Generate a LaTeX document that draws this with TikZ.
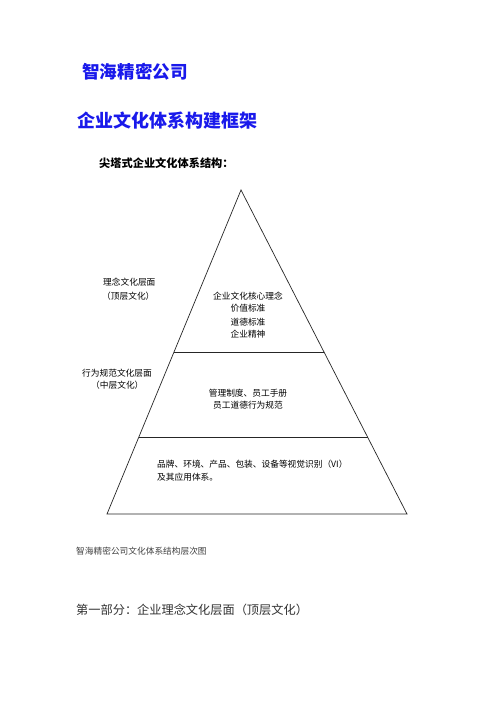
\documentclass[tikz,border=0pt]{standalone}
\usepackage{fontspec}
\setmainfont{Noto Sans CJK SC}
\definecolor{titleblue}{RGB}{25,25,235}
\begin{document}
\begin{tikzpicture}[x=1pt,y=-1pt,
  txt/.style={inner sep=0pt, font=\fontsize{8.7}{10}\selectfont},
  ttl/.style={inner sep=0pt, anchor=west, text=titleblue, font=\fontsize{#1}{#1}\selectfont\bfseries},
  edge/.style={draw=black!85, line width=0.7pt}]
\useasboundingbox[fill=white] (0,0) rectangle (496,702);
% titles
\node[ttl=17.6] (t1) at (82,72) {智海精密公司};
\node[ttl=18] (t2) at (77,121) {企业文化体系构建框架};
\node[inner sep=0pt, anchor=west, font=\fontsize{11.2}{12}\selectfont\bfseries] (t3) at (99,163) {尖塔式企业文化体系结构：};
% pyramid
\coordinate (apex) at (241,190);
\coordinate (bl) at (107,514);
\coordinate (br) at (407,514);
\coordinate (l1a) at (174,352);
\coordinate (l1b) at (324,352);
\coordinate (l2a) at (139,437);
\coordinate (l2b) at (368,437);
\draw[edge] (apex) -- (bl) -- (br) -- cycle;
\draw[edge] (l1a) -- (l1b);
\draw[edge] (l2a) -- (l2b);
% left labels
\node[txt, anchor=west] (a1) at (103,282) {理念文化层面};
\node[txt, anchor=west] (a2) at (102,296) {（顶层文化）};
\node[txt, anchor=west] (b1) at (82,373) {行为规范文化层面};
\node[txt, anchor=west] (b2) at (91,385) {（中层文化）};
% inner texts
\node[txt] (c1) at (248,296) {企业文化核心理念};
\node[txt] (c2) at (248,308) {价值标准};
\node[txt] (c3) at (248,322) {道德标准};
\node[txt] (c4) at (248,334) {企业精神};
\node[txt] (d1) at (248,393) {管理制度、员工手册};
\node[txt] (d2) at (248,405) {员工道德行为规范};
\node[txt, anchor=west] (e1) at (157,464) {品牌、环境、产品、包装、设备等视觉识别（VI）};
\node[txt, anchor=west] (e2) at (157,477) {及其应用体系。};
% caption
\node[inner sep=0pt, anchor=west, text=black!75, font=\fontsize{8.7}{10}\selectfont] (cap) at (76,551) {智海精密公司文化体系结构层次图};
\node[inner sep=0pt, anchor=west, text=black!80, font=\fontsize{12.2}{14}\selectfont] (sec) at (76,610) {第一部分：企业理念文化层面（顶层文化）};
\end{tikzpicture}
\end{document}
